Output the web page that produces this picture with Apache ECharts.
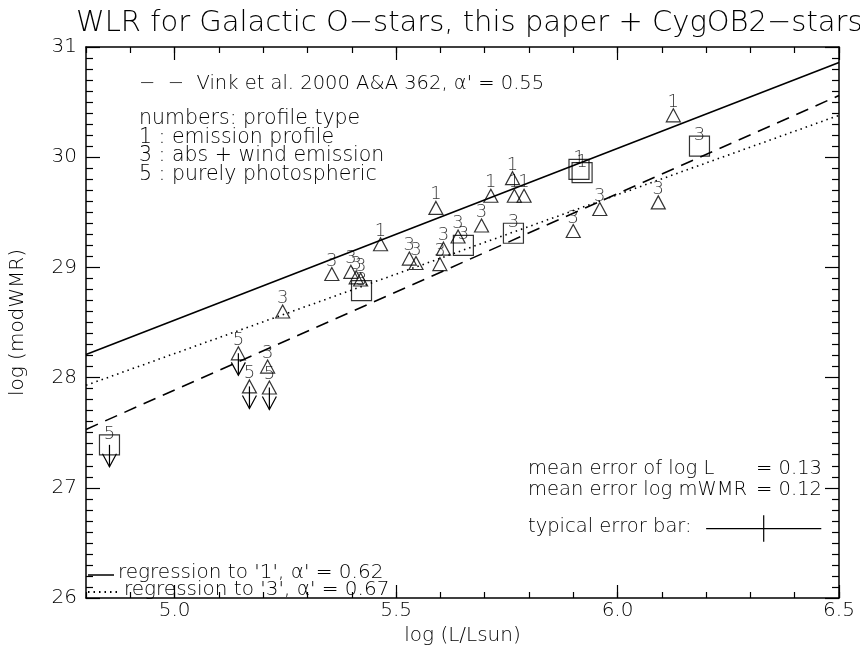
<!DOCTYPE html>
<html lang="en">
<head>
    <meta charset="UTF-8">
    <title>WLR for Galactic O-stars</title>
    <style>
        html, body { margin: 0; padding: 0; background: #fff; }
        #chart { width: 860px; height: 652px; }
    </style>
</head>
<body>
<div id="chart"></div>
<script src="https://cdn.jsdelivr.net/npm/echarts@6/dist/echarts.min.js"></script>
<script>
    // regression / theory lines, evaluated at the axis ends
    var lineX = [4.8, 6.5];
    var vinkY = [27.53, 30.56];
    var fit1Y = [28.21, 30.86];
    var fit3Y = [27.93, 30.38];

    // this paper, triangles; number = profile type
    var type1 = [[5.465, 29.21], [5.590, 29.54], [5.714, 29.65], [5.763, 29.81], [5.767, 29.65], [5.789, 29.65], [6.126, 30.38]];
    var type3 = [[5.210, 28.10], [5.244, 28.60], [5.355, 28.94], [5.398, 28.96], [5.410, 28.91], [5.420, 28.89],
                 [5.530, 29.08], [5.545, 29.04], [5.599, 29.03], [5.607, 29.17], [5.640, 29.28], [5.693, 29.38],
                 [5.900, 29.33], [5.960, 29.53], [6.092, 29.59]];
    var type5 = [[5.144, 28.22], [5.169, 27.92], [5.214, 27.91]];

    // CygOB2 stars, squares
    var cyg1 = [[5.913, 29.89], [5.920, 29.86]];
    var cyg3 = [[5.422, 28.79], [5.652, 29.20], [5.765, 29.31], [6.185, 30.10]];
    var cyg5 = [[4.853, 27.39]];

    // typical error bar
    var errCenter = [6.33, 26.63];
    var errLogL = 0.13;
    var errLogW = 0.12;

    var xMajor = [5.0, 5.5, 6.0, 6.5];
    var FONT = 'DejaVu Sans';
    var WEIGHT = 200;

    var myChart = echarts.init(document.getElementById('chart'));

    function xAxisDef(pos, major) {
        return {
            type: 'value', position: pos, min: 4.8, max: 6.5,
            interval: major ? 0.5 : 0.1,
            axisLine: { show: major, lineStyle: { color: '#000', width: 1.5 } },
            axisTick: major ? { inside: true, length: 13, customValues: xMajor, lineStyle: { color: '#000', width: 1.2 } }
                            : { inside: true, length: 6, lineStyle: { color: '#000', width: 1.2 } },
            axisLabel: (major && pos === 'bottom') ? { customValues: xMajor, color: '#000', fontSize: 20, fontFamily: FONT, fontWeight: WEIGHT, margin: 3,
                            formatter: function (v) { return v.toFixed(1); } } : { show: false },
            splitLine: { show: false },
            name: (major && pos === 'bottom') ? 'log (L/Lsun)' : '',
            nameLocation: 'middle', nameGap: 28,
            nameTextStyle: { color: '#000', fontSize: 20, fontFamily: FONT, fontWeight: WEIGHT }
        };
    }

    function yAxisDef(pos) {
        return {
            type: 'value', position: pos, min: 26, max: 31, interval: 1,
            axisLine: { show: true, lineStyle: { color: '#000', width: 1.5 } },
            axisTick: { inside: true, length: 14, lineStyle: { color: '#000', width: 1.2 } },
            minorTick: { show: true, splitNumber: 10, length: 7, lineStyle: { color: '#000', width: 1.2 } },
            axisLabel: pos === 'left' ? { color: '#000', fontSize: 20, fontFamily: FONT, fontWeight: WEIGHT, margin: 9 } : { show: false },
            splitLine: { show: false },
            name: pos === 'left' ? 'log (modWMR)' : '',
            nameLocation: 'middle', nameGap: 58,
            nameTextStyle: { color: '#000', fontSize: 20, fontFamily: FONT, fontWeight: WEIGHT }
        };
    }

    function lineSeries(ys, type) {
        return {
            type: 'line', showSymbol: false, silent: true,
            data: lineX.map(function (x, i) { return [x, ys[i]]; }),
            lineStyle: { color: '#000', width: 1.6, type: type },
            z: 1
        };
    }

    function markers(data, symbol, size, num, dist) {
        return {
            type: 'scatter', data: data, symbol: symbol, symbolSize: size,
            itemStyle: { color: 'rgba(0,0,0,0)', borderColor: '#000', borderWidth: 1.2 },
            label: { show: true, position: 'top', distance: dist, formatter: num,
                     color: '#000', fontSize: 18, fontFamily: FONT, fontWeight: WEIGHT },
            z: 3
        };
    }

    // downward arrows for the upper limits (type 5)
    var arrowSeries = {
        type: 'custom',
        data: type5.concat(cyg5),
        renderItem: function (params, api) {
            var p = api.coord([api.value(0), api.value(1)]);
            var tip = p[1] + 22;
            return {
                type: 'group',
                children: [
                    { type: 'line', shape: { x1: p[0], y1: p[1], x2: p[0], y2: tip }, style: { stroke: '#000', lineWidth: 1.2 } },
                    { type: 'polyline', shape: { points: [[p[0] - 7, tip - 13], [p[0], tip], [p[0] + 7, tip - 13]] }, style: { stroke: '#000', fill: null, lineWidth: 1.2 } }
                ]
            };
        },
        z: 4
    };

    var errorSeries = {
        type: 'custom',
        data: [errCenter],
        renderItem: function (params, api) {
            var x = api.value(0), y = api.value(1);
            var l = api.coord([x - errLogL, y]), r = api.coord([x + errLogL, y]);
            var t = api.coord([x, y + errLogW]), b = api.coord([x, y - errLogW]);
            return {
                type: 'group',
                children: [
                    { type: 'line', shape: { x1: l[0], y1: l[1], x2: r[0], y2: r[1] }, style: { stroke: '#000', lineWidth: 1.2 } },
                    { type: 'line', shape: { x1: t[0], y1: t[1], x2: b[0], y2: b[1] }, style: { stroke: '#000', lineWidth: 1.2 } }
                ]
            };
        }
    };

    function text(x, y, s, size, align) {
        return { type: 'text', x: x, y: y,
                 style: { text: s, fill: '#000', fontFamily: FONT, fontWeight: WEIGHT, fontSize: size,
                          textAlign: align || 'left', textVerticalAlign: 'middle' } };
    }

    var option = {
        animation: false,
        backgroundColor: '#fff',
        grid: { left: 86, right: 21, top: 47, bottom: 54 },
        title: {
            text: 'WLR for Galactic O\u2212stars, this paper + CygOB2\u2212stars',
            left: 71, top: 4,
            textStyle: { color: '#000', fontSize: 29, fontWeight: WEIGHT, fontFamily: FONT }
        },
        xAxis: [xAxisDef('bottom', true), xAxisDef('bottom', false), xAxisDef('top', true), xAxisDef('top', false)],
        yAxis: [yAxisDef('left'), yAxisDef('right')],
        graphic: [
            text(139, 84, '\u2212  \u2212  Vink et al. 2000 A&A 362, \u03b1\' = 0.55', 19.5),
            text(139, 119, 'numbers: profile type', 20.5),
            text(139, 137.5, '1 : emission profile', 20.5),
            text(139, 156, '3 : abs + wind emission', 20.5),
            text(139, 174.5, '5 : purely photospheric', 20.5),
            text(528, 469, 'mean error of log L', 19.5),
            text(822, 469, '= 0.13', 19.5, 'right'),
            text(528, 490, 'mean error log mWMR', 19.5),
            text(822, 490, '= 0.12', 19.5, 'right'),
            text(528, 527, 'typical error bar:', 19.5),
            { type: 'line', shape: { x1: 88, y1: 575, x2: 114, y2: 575 }, style: { stroke: '#000', lineWidth: 1.5 } },
            text(118, 573, 'regression to \'1\', \u03b1\' = 0.62', 20),
            { type: 'line', shape: { x1: 88, y1: 592, x2: 117, y2: 592 }, style: { stroke: '#000', lineWidth: 1.8, lineDash: [1.5, 4] } },
            text(124, 590, 'regression to \'3\', \u03b1\' = 0.67', 20)
        ],
        series: [
            lineSeries(fit1Y, 'solid'),
            lineSeries(vinkY, [13, 8]),
            lineSeries(fit3Y, [1.5, 4]),
            markers(type1, 'triangle', [14, 13], '1', -3),
            markers(type3, 'triangle', [14, 13], '3', -3),
            markers(type5, 'triangle', [14, 13], '5', -3),
            markers(cyg1, 'rect', 20, '1', -9),
            markers(cyg3, 'rect', 20, '3', -9),
            markers(cyg5, 'rect', 20, '5', -9),
            arrowSeries,
            errorSeries
        ]
    };
    myChart.setOption(option);
</script>
</body>
</html>
